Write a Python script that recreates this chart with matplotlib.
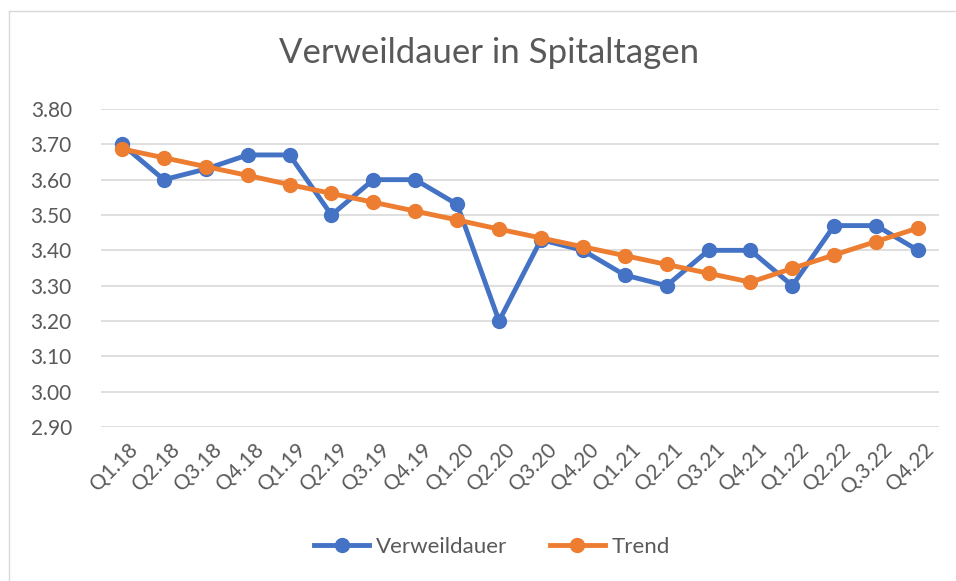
import matplotlib.pyplot as plt
import matplotlib.transforms as mtransforms
from matplotlib.lines import Line2D

labels = ["Q1.18", "Q2.18", "Q3.18", "Q4.18", "Q1.19", "Q2.19", "Q3.19", "Q4.19",
          "Q1.20", "Q2.20", "Q3.20", "Q4.20", "Q1.21", "Q2.21", "Q3.21", "Q4.21",
          "Q1.22", "Q2.22", "Q.3.22", "Q4.22"]
verweildauer = [3.70, 3.60, 3.63, 3.67, 3.67, 3.50, 3.60, 3.60, 3.53, 3.20,
                3.43, 3.40, 3.33, 3.30, 3.40, 3.40, 3.30, 3.47, 3.47, 3.40]
trend = [3.687, 3.662, 3.637, 3.612, 3.586, 3.561, 3.536, 3.511, 3.486, 3.460,
         3.435, 3.410, 3.385, 3.360, 3.335, 3.310, 3.349, 3.387, 3.425, 3.463]
yticks = [2.90, 3.00, 3.10, 3.20, 3.30, 3.40, 3.50, 3.60, 3.70, 3.80]

blue = "#4472C4"
orange = "#ED7D31"
grey = "#595959"

plt.rcParams['font.family'] = ['Lato', 'DejaVu Sans']

fig = plt.figure(figsize=(9.56, 5.81), dpi=100)
ax = fig.add_axes([101 / 956, 1 - 427 / 581, 838 / 956, 318 / 581])

x = range(len(labels))
ax.plot(x, verweildauer, color=blue, lw=3.5, marker="o", ms=10, label="Verweildauer", zorder=3)
ax.plot(x, trend, color=orange, lw=3.5, marker="o", ms=10, label="Trend", zorder=4)

ax.set_xlim(-0.5, len(labels) - 0.5)
ax.set_ylim(2.90, 3.80)
ax.set_yticks(yticks)
ax.set_yticklabels(["%.2f" % v for v in yticks], fontsize=15, color=grey)
ax.set_xticks(list(x))
ax.set_xticklabels(labels, rotation=45, ha="right", rotation_mode="anchor",
                   fontsize=15, color=grey)
ax.tick_params(length=0)
ax.tick_params(axis="y", pad=21)
ax.tick_params(axis="x", pad=9)
# shift x labels a bit right, like Excel anchors them
offset = mtransforms.ScaledTranslation(6 / 100, 0, fig.dpi_scale_trans)
for lab in ax.get_xticklabels():
    lab.set_transform(lab.get_transform() + offset)
ax.grid(axis="y", color="#D9D9D9", lw=1.2)
ax.set_axisbelow(True)
for s in ax.spines.values():
    s.set_visible(False)

fig.text(489 / 956, 1 - 53 / 581, "Verweildauer in Spitaltagen", fontsize=25,
         color=grey, ha="center", va="center")

handles = [Line2D([], [], color=blue, lw=3.5, marker="o", ms=10),
           Line2D([], [], color=orange, lw=3.5, marker="o", ms=10)]
fig.legend(handles, ["Verweildauer", "Trend"], loc="center",
           bbox_to_anchor=(492 / 956, 1 - 547 / 581), ncol=2, frameon=False,
           fontsize=16, labelcolor=grey, handlelength=2.5, columnspacing=1.9,
           handletextpad=0.3)

# chart border (only top and left visible in the crop)
fig.add_artist(Line2D([9 / 956, 9 / 956], [0, 1 - 11 / 581], color="#D9D9D9", lw=1))
fig.add_artist(Line2D([9 / 956, 1], [1 - 11 / 581, 1 - 11 / 581], color="#D9D9D9", lw=1))

fig.savefig("out.png", dpi=100)
